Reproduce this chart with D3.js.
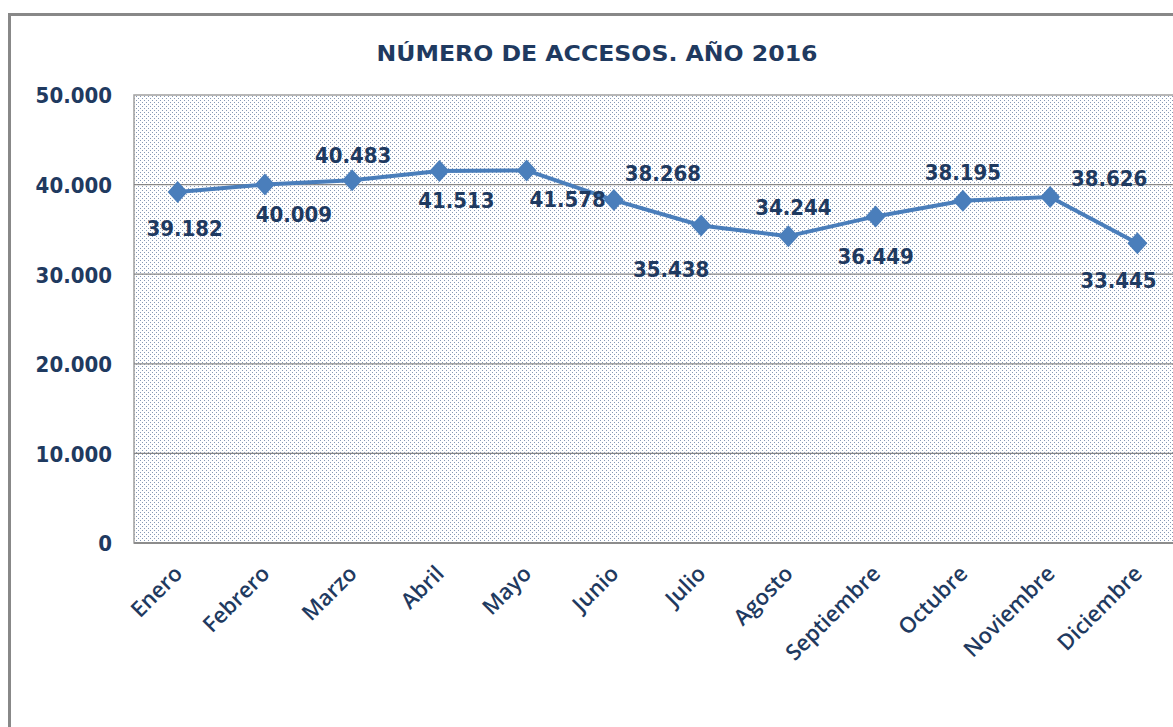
<!DOCTYPE html>
<html>
<head>
<meta charset="utf-8">
<script src="https://cdn.jsdelivr.net/npm/d3@7"></script>
<style>
  html, body { margin: 0; padding: 0; background: #ffffff; }
  svg { display: block; }
</style>
</head>
<body>
<svg id="chart" width="1173" height="727"></svg>
<script>
// Monthly access counts, 2016
const months = ["Enero", "Febrero", "Marzo", "Abril", "Mayo", "Junio", "Julio",
                "Agosto", "Septiembre", "Octubre", "Noviembre", "Diciembre"];
const accesses = [39182, 40009, 40483, 41513, 41578, 38268, 35438,
                  34244, 36449, 38195, 38626, 33445];
const yTicks = [0, 10000, 20000, 30000, 40000, 50000];
const title = "NÚMERO DE ACCESOS. AÑO 2016";

// Where each value label sits relative to its marker (px)
const labelOffsets = [[7, 36], [29, 30], [1, -25], [17, 29], [41, 29], [49, -27],
                      [-30, 44], [5, -29], [0, 40], [0, -29], [59, -19], [-19, 37]];

const navy = "#1f3a60";
const lineBlue = "#4a7ebb";
const numFont = "'DejaVu Sans Condensed', 'DejaVu Sans', sans-serif";

const svg = d3.select("#chart");

// Plot area geometry (extends past the right edge of the frame)
const plot = { left: 134, top: 95, bottom: 543, right: 1181 };

const fmt = v => d3.format(",")(v).replace(/,/g, ".");

const x = d3.scalePoint().domain(months).range([plot.left, plot.right]).padding(0.5);
const y = d3.scaleLinear().domain([0, 50000]).range([plot.bottom, plot.top]);

// Outer chart frame
svg.append("rect")
  .attr("x", 9.5).attr("y", 14.5)
  .attr("width", 1300).attr("height", 800)
  .attr("fill", "#ffffff")
  .attr("stroke", "#888888").attr("stroke-width", 3);

// Dotted fill for the plot background
const defs = svg.append("defs");
const pat = defs.append("pattern")
  .attr("id", "dots").attr("patternUnits", "userSpaceOnUse")
  .attr("width", 4).attr("height", 4);
pat.append("rect").attr("width", 4).attr("height", 4).attr("fill", "#ffffff");
pat.append("rect").attr("x", 0).attr("y", 0).attr("width", 1).attr("height", 1)
  .attr("fill", "#3d5a88").attr("opacity", 0.62);
pat.append("rect").attr("x", 2).attr("y", 2).attr("width", 1).attr("height", 1)
  .attr("fill", "#3d5a88").attr("opacity", 0.62);

svg.append("rect")
  .attr("x", plot.left).attr("y", plot.top)
  .attr("width", plot.right - plot.left).attr("height", plot.bottom - plot.top)
  .attr("fill", "url(#dots)")
  .attr("stroke", "#a0a0a0").attr("stroke-width", 1.5);

// Horizontal gridlines
svg.append("g")
  .selectAll("line")
  .data(yTicks.filter(t => t > 0 && t < 50000))
  .join("line")
  .attr("x1", plot.left).attr("x2", plot.right)
  .attr("y1", d => y(d)).attr("y2", d => y(d))
  .attr("stroke", "#868686").attr("stroke-width", 1.2);

// Category axis baseline
svg.append("line")
  .attr("x1", plot.left).attr("x2", plot.right)
  .attr("y1", plot.bottom).attr("y2", plot.bottom)
  .attr("stroke", "#8c8c8c").attr("stroke-width", 2);

// Value axis labels
const yAxis = d3.axisLeft(y).tickValues(yTicks).tickFormat(fmt).tickSize(0).tickPadding(0);
const yg = svg.append("g").attr("transform", "translate(112,0)").call(yAxis);
yg.select(".domain").remove();
yg.selectAll("text")
  .attr("fill", navy)
  .attr("font-family", numFont)
  .attr("font-weight", "bold")
  .attr("font-size", 22)
  .attr("dy", "0.36em");

// Month labels, rotated
const xAxis = d3.axisBottom(x).tickSize(0).tickPadding(0);
const xg = svg.append("g").call(xAxis);
xg.select(".domain").remove();
xg.selectAll(".tick").attr("transform", null);
xg.selectAll(".tick text")
  .attr("y", null).attr("dy", null)
  .attr("transform", d => `translate(${x(d) + 6},${575}) rotate(-45)`)
  .attr("text-anchor", "end")
  .attr("fill", navy)
  .attr("font-family", "'Open Sans', sans-serif")
  .attr("font-weight", 600)
  .attr("font-size", 22);

// Title
svg.append("text")
  .attr("x", 597).attr("y", 61)
  .attr("text-anchor", "middle")
  .attr("fill", navy)
  .attr("font-family", numFont)
  .attr("font-weight", "bold")
  .attr("font-size", 22)
  .attr("textLength", 441)
  .attr("lengthAdjust", "spacingAndGlyphs")
  .text(title);

// Series line
const line = d3.line().x((d, i) => x(months[i])).y(d => y(d));
svg.append("path")
  .datum(accesses)
  .attr("d", line)
  .attr("fill", "none")
  .attr("stroke", lineBlue)
  .attr("stroke-width", 4)
  .attr("stroke-linejoin", "round");

// Diamond markers
svg.append("g")
  .selectAll("path")
  .data(accesses)
  .join("path")
  .attr("transform", (d, i) => `translate(${x(months[i])},${y(d)})`)
  .attr("d", "M0,-11L10,0L0,11L-10,0Z")
  .attr("fill", lineBlue);

// Value labels
svg.append("g")
  .selectAll("text")
  .data(accesses)
  .join("text")
  .attr("x", (d, i) => x(months[i]) + labelOffsets[i][0])
  .attr("y", (d, i) => y(d) + labelOffsets[i][1])
  .attr("dy", "0.36em")
  .attr("text-anchor", "middle")
  .attr("fill", navy)
  .attr("font-family", numFont)
  .attr("font-weight", "bold")
  .attr("font-size", 22)
  .text(fmt);
</script>
</body>
</html>
